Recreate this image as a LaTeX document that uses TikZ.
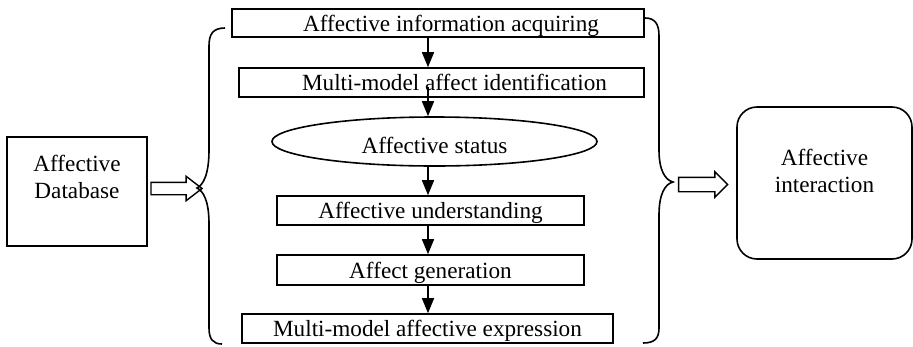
\documentclass[tikz,border=0pt]{standalone}
\usepackage{fontspec}
\setmainfont{Liberation Serif}
\usetikzlibrary{arrows.meta, positioning, shapes.geometric, shapes.arrows, calc}

\begin{document}
\begin{tikzpicture}[x=1pt, y=-1pt, line width=1.6pt,
    font=\fontsize{23.2}{27}\selectfont,
    stepbox/.style={draw, rectangle, inner sep=0pt, minimum height=29pt,
                    text height=16pt, text depth=0pt},
    offtext/.style={execute at begin node=\hspace*{26pt}},
    sidebox/.style={draw, rectangle, inner sep=0pt},
    flow/.style={-{Triangle[width=12pt, length=15pt]}},
    hollow/.style={draw, single arrow, inner xsep=0pt, line width=1.4pt,
                   minimum height=#1}]
  \useasboundingbox (0,0) rectangle (913,346);
  % Processing chain
  \node[stepbox, offtext, minimum width=412pt, minimum height=28pt] (acquire) at (438,23) {Affective information acquiring};
  \node[stepbox, offtext, minimum width=405pt] (identify) at (441.5,82.5) {Multi-model affect identification};
  \node[draw, ellipse, inner sep=0pt, minimum width=325pt, minimum height=49pt,
        text height=23pt, text depth=0pt] (status) at (434.5,141.5) {Affective status};
  \node[stepbox, minimum width=307pt] (understand) at (430.5,210.5) {Affective understanding};
  \node[stepbox, minimum width=307pt, minimum height=30pt] (generate) at (430.5,270) {Affect generation};
  \node[stepbox, minimum width=371pt] (express) at (427.5,328.5) {Multi-model affective expression};
  \coordinate (axis) at (428,0);
  \draw[flow] (acquire.south -| axis) -- (identify.north -| axis);
  \draw[flow] ($(identify.center -| axis)+(0,4)$) -- (status.north -| axis);
  \draw[flow] (status.south -| axis) -- (understand.north -| axis);
  \draw[flow] (understand.south -| axis) -- (generate.north -| axis);
  \draw[flow] (generate.south -| axis) -- (express.north -| axis);
  % Database and interaction
  \node[sidebox, minimum width=140pt, minimum height=109pt,
        label={[name=dbtext, align=center, yshift=15pt]center:Affective\\Database}] (db) at (77,191.5) {};
  \node[sidebox, rounded corners=20pt, minimum width=175pt, minimum height=152pt,
        label={[name=intertext, align=center, yshift=12pt]center:Affective\\interaction}] (inter) at (824.5,183) {};
  % Braces
  \draw (225,28) .. controls (213,28) and (209,34) .. (209,46) -- (209,150)
        .. controls (209,175) and (203,185) .. (197,188)
        .. controls (203,191) and (209,200) .. (209,224) -- (209,328)
        .. controls (209,339) and (213,344) .. (222,344);
  \draw (645,18) .. controls (655,18) and (659,24) .. (659,36) -- (659,150)
        .. controls (659,170) and (665,180) .. (673,182)
        .. controls (665,184) and (659,194) .. (659,215) -- (659,328)
        .. controls (659,338) and (655,343) .. (643,343);
  % Hollow arrows
  \node[hollow=51pt, inner ysep=5.5pt, single arrow head extend=6pt,
        single arrow tip angle=75] (feedin) at (172.5,188.5) {};
  \node[hollow=49pt, inner ysep=6.5pt, single arrow head extend=5.5pt,
        single arrow tip angle=90] (feedout) at (699.5,184.5) {};
\end{tikzpicture}
\end{document}
